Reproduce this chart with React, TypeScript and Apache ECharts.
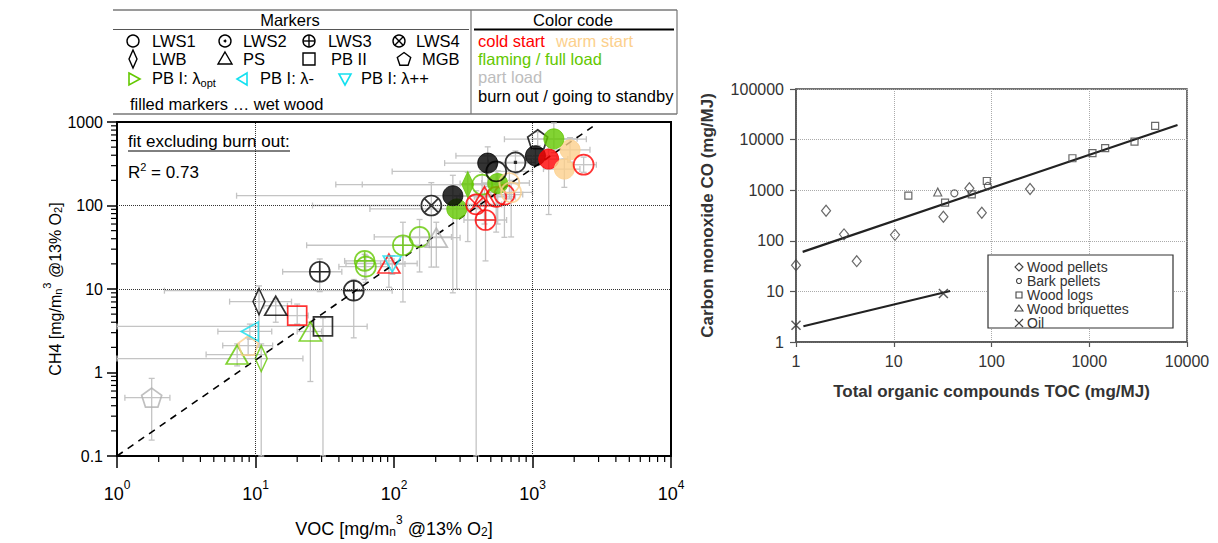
import React, { useEffect, useRef } from 'react';
import * as echarts from 'echarts';

const FONT = "'Liberation Sans', Arial, sans-serif";

// ---------- Left panel: CH4 vs VOC ----------
// shape codes: c=LWS1, cd=LWS2, cp=LWS3, cx=LWS4, dm=LWB, tu=PS, sq=PB II, pg=MGB, tr=PB I opt, tl=PB I λ-, td=PB I λ++
const L_SHAPE = ['pg','dm','tu','pg','tl','tu','sq','sq','tu','dm','cp','cp','c','cp','tu','td','cp','c','tu','cx','c','c','dm','c','cx','cp','tu','c','c','c','c','c','c','c','cd','c','c','c','c','c','pg','c'];
const L_STATE = ['part','flame','flame','warm','cyan','flame','burn','cold','burn','burn','burn','burn','flame','flame','cold','cyan','flame','flame','part','burn','flame','burn','flame','flame','cold','cold','cold','cold','cold','flame','warm','warm','burn','burn','burn','burn','cold','warm','warm','cold','burn','flame'];
const L_FILLED = [0,0,0,0,0,0,0,0,0,0,0,0,0,0,0,0,0,0,0,0,1,1,1,0,0,0,0,0,0,1,0,0,0,1,0,1,1,1,1,0,0,1];
const L_X = [1.78,11.0,7.37,8.85,9.1,24.9,30.7,20,14,10.6,51.2,29.1,62.6,61.4,91.9,97.2,116,153,202,186,284,266,341,433,392,458,450,547,627,561,681,701,547,475,753,1050,1309,1698,1867,2340,1090,1426];
const L_Y = [0.5,1.47,1.64,2.1,3.1,3.1,3.56,4.8,6.3,7.06,9.55,16.1,18.5,21.7,20.2,19.9,33.4,42,41.2,100,91,131,178,178,103,67,129,127,135,183,186,144,256,322,328,394,360,273,464,308,622,628];
const L_XLO = [1.14,1,4.4,5.8,5.35,20,1,17,11.5,6.5,2.2,15.7,40,44,45,80,23.4,72,130,25.8,67,7.3,59,38,250,320,300,380,430,300,430,480,97,232,480,280,900,1200,1300,1940,627,1000];
const L_XHI = [2.41,22,12,13.3,13.1,30,64,24,17,18.2,97,42,90,100,147,120,180,260,300,400,420,500,520,650,600,650,650,750,850,800,950,1000,1000,982,1050,1500,1800,2200,2600,2890,2448,2100];
const L_YLO = [0.155,0.1,1.2,1.6,2.5,0.78,0.1,3.8,4,2,2.6,9.3,12,13,10.5,15,7,16,18.3,18.3,10,9,37,110,0.1,21.7,60,48,41.6,60,120,42,190,168,240,300,78,165,330,250,520,430];
const L_YHI = [0.85,2.2,2.2,2.6,3.8,4.0,4.5,6.6,7.6,10.9,13,22.9,25,26,23.4,25,63,68,63,188,130,230,250,250,150,110,180,180,190,260,260,200,330,504,450,500,470,360,650,380,760,973];

const FIT_X = [1, 2720];
const FIT_Y = [0.1, 880];

const L_X_MINOR = [2,3,4,5,6,7,8,9,20,30,40,50,60,70,80,90,200,300,400,500,600,700,800,900,2000,3000,4000,5000,6000,7000,8000,9000];
const L_Y_MINOR = [0.2,0.3,0.4,0.5,0.6,0.7,0.8,0.9,2,3,4,5,6,7,8,9,20,30,40,50,60,70,80,90,200,300,400,500,600,700,800,900];

// ---------- Right panel: CO vs TOC ----------
const R_PELLETS_X = [1, 2.03, 3.1, 4.18, 10.3, 32.2, 59.4, 79.6, 248];
const R_PELLETS_Y = [33, 393, 134, 39.6, 131, 299, 1091, 358, 1057];
const R_BARK_X = [41.7, 91.6];
const R_BARK_Y = [868, 1211];
const R_LOGS_X = [14.1, 33.5, 62.8, 89.5, 673, 1079, 1455, 2904, 4722];
const R_LOGS_Y = [778, 566, 829, 1521, 4283, 5381, 6757, 9120, 18670];
const R_BRIQ_X = [28.2];
const R_BRIQ_Y = [921];
const R_OIL_X = [1, 32.2];
const R_OIL_Y = [2.14, 9.09];
const R_FIT_BIO_X = [1.17, 8000];
const R_FIT_BIO_Y = [60.5, 19500];
const R_FIT_OIL_X = [1.19, 37.7];
const R_FIT_OIL_Y = [2.05, 10.2];

const STATE_COLOR: Record<string, string> = {
  cold: '#ff0000',
  warm: '#fcd08c',
  flame: '#63c800',
  part: '#b0b0b0',
  burn: '#000000',
  cyan: '#14e0f0',
};

const CIRC = 'M0,10C0,4.48 4.48,0 10,0C15.52,0 20,4.48 20,10C20,15.52 15.52,20 10,20C4.48,20 0,15.52 0,10Z';
const SYM: Record<string, string> = {
  c: 'path://' + CIRC,
  cd: 'path://' + CIRC + 'M9.2,9.2L10.8,9.2L10.8,10.8L9.2,10.8Z',
  cp: 'path://' + CIRC + 'M10,0L10,20M0,10L20,10',
  cx: 'path://' + CIRC + 'M2.93,2.93L17.07,17.07M17.07,2.93L2.93,17.07',
  dm: 'path://M5,0L10,13L5,26L0,13Z',
  tu: 'path://M10,0L20,18L0,18Z',
  sq: 'path://M0,0L20,0L20,20L0,20Z',
  pg: 'path://M10,0L19.51,6.91L15.88,18.09L4.12,18.09L0.49,6.91Z',
  tr: 'path://M0,0L18,10L0,20Z',
  tl: 'path://M18,0L0,10L18,20Z',
  td: 'path://M0,0L20,0L10,18Z',
};
const SIZE: Record<string, number[]> = {
  c: [20, 20], cd: [20, 20], cp: [20, 20], cx: [20, 20], dm: [12, 26], tu: [22, 19],
  sq: [19, 19], pg: [20, 19], tr: [17, 19], tl: [17, 19], td: [18, 16],
};

const ERR_COLOR = '#c4c4c4';
const TS = 16.5; // table font size
const LS = 14; // right legend font size

function buildOption() {
  const leftScatter = L_X.map((x, i) => {
    const col = STATE_COLOR[L_STATE[i]];
    const filled = L_FILLED[i] === 1;
    return {
      value: [x, L_Y[i]],
      symbol: SYM[L_SHAPE[i]],
      symbolSize: SIZE[L_SHAPE[i]],
      itemStyle: filled
        ? { color: col, borderColor: col, borderWidth: 1 }
        : { color: 'rgba(0,0,0,0)', borderColor: col, borderWidth: 1.7 },
    };
  });

  const errData = L_X.map((x, i) => [x, L_Y[i], L_XLO[i], L_XHI[i], L_YLO[i], L_YHI[i]]);

  const richX = {
    b: { fontSize: 18, fontFamily: FONT, color: '#000', lineHeight: 24, verticalAlign: 'bottom' },
    sup: { fontSize: 12, fontFamily: FONT, color: '#000', lineHeight: 12, verticalAlign: 'top' },
    sub: { fontSize: 12, fontFamily: FONT, color: '#000', lineHeight: 9, verticalAlign: 'bottom' },
  };
  const richY = {
    b: { fontSize: 16, fontFamily: FONT, color: '#000', lineHeight: 22, verticalAlign: 'bottom' },
    sup: { fontSize: 11, fontFamily: FONT, color: '#000', lineHeight: 12, verticalAlign: 'top' },
    sub: { fontSize: 11, fontFamily: FONT, color: '#000', lineHeight: 8, verticalAlign: 'bottom' },
  };

  const rightMarker = (sym: any, size: any) => ({
    type: 'scatter', xAxisIndex: 1, yAxisIndex: 1, symbol: sym, symbolSize: size, z: 3,
    itemStyle: { color: 'rgba(0,0,0,0)', borderColor: '#444', borderWidth: 1.2 },
  });

  const txt = (x: number, y: number, text: string, fill = '#000', extra: any = {}) => ({
    type: 'text', x, y, z: 10,
    style: { text, fill, fontSize: TS, fontFamily: FONT, align: 'left', verticalAlign: 'middle', ...extra },
  });
  const ln = (x1: number, y1: number, x2: number, y2: number, stroke = '#000', lw = 1.4) => ({
    type: 'line', z: 10, shape: { x1, y1, x2, y2 }, style: { stroke, lineWidth: lw },
  });
  const circ = (cx: number, cy: number, r: number, stroke = '#000', fill = 'none', lw = 1.4) => ({
    type: 'circle', z: 10, shape: { cx, cy, r }, style: { stroke, fill, lineWidth: lw },
  });
  const poly = (points: number[][], stroke = '#000', lw = 1.4) => ({
    type: 'polygon', z: 10, shape: { points }, style: { stroke, fill: 'none', lineWidth: lw },
  });

  const graphic: any[] = [
    // legend table
    ln(113, 10, 677, 10, '#9a9a9a', 2),
    ln(113, 114, 677, 114, '#9a9a9a', 2),
    ln(677, 10, 677, 114, '#777', 1.2),
    ln(471, 10, 471, 114, '#777', 1.2),
    ln(113, 29.5, 469, 29.5, '#555', 1),
    ln(474, 29.5, 674, 29.5, '#000', 2),
    txt(290, 20, 'Markers', '#000', { align: 'center' }),
    txt(573, 20, 'Color code', '#000', { align: 'center' }),
    // row 1
    circ(133, 41, 6),
    txt(152, 41, 'LWS1'),
    circ(225, 41, 6),
    circ(225, 41, 1, '#000', '#000', 1),
    txt(243, 41, 'LWS2'),
    circ(309, 41, 6),
    ln(309, 35, 309, 47), ln(303, 41, 315, 41),
    txt(328, 41, 'LWS3'),
    circ(399, 41, 6),
    ln(394.8, 36.8, 403.2, 45.2), ln(403.2, 36.8, 394.8, 45.2),
    txt(416, 41, 'LWS4'),
    // row 2
    poly([[133, 50], [137, 59], [133, 68], [129, 59]]),
    txt(152, 59, 'LWB'),
    poly([[225, 52], [232, 64], [218, 64]]),
    txt(243, 59, 'PS'),
    { type: 'rect', z: 10, shape: { x: 303, y: 53, width: 12, height: 12 }, style: { stroke: '#000', fill: 'none', lineWidth: 1.4 } },
    txt(331, 59, 'PB II'),
    poly([[404, 52.5], [410.7, 57.4], [408.1, 65.3], [399.9, 65.3], [397.3, 57.4]]),
    txt(422, 59, 'MGB'),
    // row 3
    poly([[129, 73], [140, 79], [129, 85]], STATE_COLOR.flame, 1.6),
    { type: 'text', x: 152, y: 78, z: 10, style: { text: 'PB I: λ{sub|opt}', fill: '#000', fontSize: TS, fontFamily: FONT, verticalAlign: 'middle', lineHeight: 20, rich: { sub: { fontSize: 11, fontFamily: FONT, lineHeight: 8, verticalAlign: 'bottom', fill: '#000' } } } },
    poly([[247, 73], [237, 79], [247, 85]], STATE_COLOR.cyan, 1.6),
    txt(260, 78, 'PB I: λ-'),
    poly([[339, 74], [351, 74], [345, 85]], STATE_COLOR.cyan, 1.6),
    txt(361, 78, 'PB I: λ++'),
    // row 4
    txt(130, 104, 'filled markers … wet wood'),
    // color code
    txt(478, 41, 'cold start', STATE_COLOR.cold),
    txt(556, 41, 'warm start', STATE_COLOR.warm),
    txt(478, 59, 'flaming / full load', STATE_COLOR.flame),
    txt(478, 77, 'part load', '#bdbdbd'),
    txt(478, 96, 'burn out / going to standby', '#000'),
    // annotation in left plot
    txt(128, 141, 'fit excluding burn out:', '#000', { fontSize: 17 }),
    ln(128, 151, 290, 151, '#000', 1),
    { type: 'text', x: 128, y: 172, z: 10, style: { text: 'R{sup|2} = 0.73', fill: '#000', fontSize: 17, fontFamily: FONT, verticalAlign: 'middle', lineHeight: 22, rich: { sup: { fontSize: 11, fontFamily: FONT, lineHeight: 10, verticalAlign: 'top', fill: '#000' } } } },
    // right legend box
    { type: 'rect', z: 10, shape: { x: 988, y: 255, width: 185, height: 73 }, style: { stroke: '#333', fill: '#fff', lineWidth: 1.2 } },
    poly([[1019, 263], [1023, 267], [1019, 271], [1015, 267]], '#444', 1.1),
    txt(1027, 267, 'Wood pellets', '#333', { fontSize: LS }),
    circ(1019, 281, 2.5, '#444', 'none', 1.1),
    txt(1027, 281, 'Bark pellets', '#333', { fontSize: LS }),
    { type: 'rect', z: 10, shape: { x: 1016, y: 292, width: 6, height: 6 }, style: { stroke: '#444', fill: 'none', lineWidth: 1.1 } },
    txt(1027, 295, 'Wood logs', '#333', { fontSize: LS }),
    poly([[1019, 305], [1023, 311], [1015, 311]], '#444', 1.1),
    txt(1027, 309, 'Wood briquettes', '#333', { fontSize: LS }),
    ln(1015, 319, 1023, 327, '#444', 1.2),
    ln(1023, 319, 1015, 327, '#444', 1.2),
    txt(1027, 323, 'Oil', '#333', { fontSize: LS }),
  ];

  return {
    animation: false,
    backgroundColor: '#ffffff',
    textStyle: { fontFamily: FONT },
    grid: [
      { left: 117, top: 122, width: 554, height: 336, show: true, borderColor: '#000', borderWidth: 2, backgroundColor: 'rgba(0,0,0,0)' },
      { left: 796, top: 89, width: 391, height: 253, show: true, borderColor: '#444', borderWidth: 1.5, backgroundColor: 'rgba(0,0,0,0)' },
    ],
    xAxis: [
      {
        type: 'log', gridIndex: 0, min: 1, max: 10000, logBase: 10,
        axisLine: { lineStyle: { color: '#000', width: 1.5 } },
        axisTick: { inside: false, length: 12, lineStyle: { color: '#000', width: 1.5 } },
        splitLine: { show: false },
        axisLabel: {
          margin: 23,
          formatter: (v: number) => '{b|10}{sup|' + Math.round(Math.log10(v)) + '}',
          rich: richX,
        },
        name: '{b|VOC [mg/m}{sub|n}{sup|3}{b| @13% O}{sub|2}{b|]}',
        nameLocation: 'middle', nameGap: 58,
        nameTextStyle: { rich: richX },
      },
      {
        type: 'log', gridIndex: 1, min: 1, max: 10000, logBase: 10,
        axisLine: { lineStyle: { color: '#555', width: 1.5 } },
        axisTick: { inside: false, length: 5, lineStyle: { color: '#555', width: 1.2 } },
        splitLine: { show: true, lineStyle: { type: 'dotted', color: '#aaa', width: 1 } },
        axisLabel: { margin: 11, fontSize: 16, color: '#333', fontFamily: FONT, formatter: (v: number) => String(Math.round(v)) },
        name: 'Total organic compounds TOC (mg/MJ)',
        nameLocation: 'middle', nameGap: 41,
        nameTextStyle: { fontSize: 17, fontWeight: 'bold', color: '#333', fontFamily: FONT },
      },
    ],
    yAxis: [
      {
        type: 'log', gridIndex: 0, min: 0.1, max: 1000, logBase: 10,
        axisLine: { lineStyle: { color: '#000', width: 1.5 } },
        axisTick: { inside: false, length: 10, lineStyle: { color: '#000', width: 1.5 } },
        splitLine: { show: false },
        axisLabel: {
          margin: 14, fontSize: 16, color: '#000', fontFamily: FONT,
          formatter: (v: number) => (v < 1 ? v.toFixed(1) : String(Math.round(v))),
        },
        name: '{b|CH4 [mg/m}{sub|n}{sup|3}{b| @13% O}{sub|2}{b|]}',
        nameLocation: 'middle', nameGap: 50,
        nameTextStyle: { rich: richY },
      },
      {
        type: 'log', gridIndex: 1, min: 1, max: 100000, logBase: 10,
        axisLine: { lineStyle: { color: '#555', width: 1.5 } },
        axisTick: { inside: false, length: 6, lineStyle: { color: '#555', width: 1.2 } },
        splitLine: { show: true, lineStyle: { type: 'dotted', color: '#aaa', width: 1 } },
        axisLabel: { margin: 12, fontSize: 16, color: '#333', fontFamily: FONT, formatter: (v: number) => String(Math.round(v)) },
        name: 'Carbon monoxide CO (mg/MJ)',
        nameLocation: 'middle', nameGap: 80,
        nameTextStyle: { fontSize: 17, fontWeight: 'bold', color: '#333', fontFamily: FONT },
      },
    ],
    series: [
      {
        type: 'custom', xAxisIndex: 0, yAxisIndex: 0, z: 1, silent: true,
        encode: { x: 0, y: 1 },
        data: errData,
        renderItem: (params: any, api: any) => {
          const x = api.value(0), y = api.value(1);
          const l = api.coord([api.value(2), y]);
          const r = api.coord([api.value(3), y]);
          const b = api.coord([x, api.value(4)]);
          const t = api.coord([x, api.value(5)]);
          const st = { stroke: ERR_COLOR, lineWidth: 1.3 };
          const c = 3;
          return {
            type: 'group',
            children: [
              { type: 'line', shape: { x1: l[0], y1: l[1], x2: r[0], y2: r[1] }, style: st },
              { type: 'line', shape: { x1: l[0], y1: l[1] - c, x2: l[0], y2: l[1] + c }, style: st },
              { type: 'line', shape: { x1: r[0], y1: r[1] - c, x2: r[0], y2: r[1] + c }, style: st },
              { type: 'line', shape: { x1: b[0], y1: b[1], x2: t[0], y2: t[1] }, style: st },
              { type: 'line', shape: { x1: b[0] - c, y1: b[1], x2: b[0] + c, y2: b[1] }, style: st },
              { type: 'line', shape: { x1: t[0] - c, y1: t[1], x2: t[0] + c, y2: t[1] }, style: st },
            ],
          };
        },
      },
      {
        type: 'custom', xAxisIndex: 0, yAxisIndex: 0, z: 5, silent: true,
        data: L_X_MINOR.map((v) => [v, 0.1]),
        renderItem: (params: any, api: any) => {
          const p = api.coord([api.value(0), api.value(1)]);
          return { type: 'line', shape: { x1: p[0], y1: p[1], x2: p[0], y2: p[1] + 6 }, style: { stroke: '#000', lineWidth: 1.2 } };
        },
      },
      {
        type: 'custom', xAxisIndex: 0, yAxisIndex: 0, z: 5, silent: true,
        data: L_Y_MINOR.map((v) => [1, v]),
        renderItem: (params: any, api: any) => {
          const p = api.coord([api.value(0), api.value(1)]);
          return { type: 'line', shape: { x1: p[0] - 6, y1: p[1], x2: p[0], y2: p[1] }, style: { stroke: '#000', lineWidth: 1.2 } };
        },
      },
      {
        type: 'line', xAxisIndex: 0, yAxisIndex: 0, z: 2, showSymbol: false, silent: true,
        data: FIT_X.map((x, i) => [x, FIT_Y[i]]),
        lineStyle: { color: '#000', width: 1.6, type: [7, 6] },
        markLine: {
          silent: true, symbol: 'none', label: { show: false },
          lineStyle: { type: 'dotted', color: '#333', width: 1 },
          data: [{ xAxis: 10 }, { xAxis: 1000 }, { yAxis: 10 }, { yAxis: 100 }],
        },
      },
      {
        type: 'scatter', xAxisIndex: 0, yAxisIndex: 0, z: 3,
        data: leftScatter,
      },
      {
        type: 'line', xAxisIndex: 1, yAxisIndex: 1, z: 2, showSymbol: false, silent: true,
        data: R_FIT_BIO_X.map((x, i) => [x, R_FIT_BIO_Y[i]]),
        lineStyle: { color: '#222', width: 2.2 },
      },
      {
        type: 'line', xAxisIndex: 1, yAxisIndex: 1, z: 2, showSymbol: false, silent: true,
        data: R_FIT_OIL_X.map((x, i) => [x, R_FIT_OIL_Y[i]]),
        lineStyle: { color: '#222', width: 2.2 },
      },
      { ...rightMarker('diamond', [9, 11]), data: R_PELLETS_X.map((x, i) => [x, R_PELLETS_Y[i]]) },
      { ...rightMarker('circle', 7), data: R_BARK_X.map((x, i) => [x, R_BARK_Y[i]]) },
      { ...rightMarker('rect', 7), data: R_LOGS_X.map((x, i) => [x, R_LOGS_Y[i]]) },
      { ...rightMarker('triangle', 8), data: R_BRIQ_X.map((x, i) => [x, R_BRIQ_Y[i]]) },
      { ...rightMarker('path://M0,0L10,10M10,0L0,10', 9), itemStyle: { color: 'rgba(0,0,0,0)', borderColor: '#333', borderWidth: 1.5 }, data: R_OIL_X.map((x, i) => [x, R_OIL_Y[i]]) },
    ],
    graphic,
  };
}

export default function App() {
  const ref = useRef<HTMLDivElement>(null);
  useEffect(() => {
    if (!ref.current) return;
    const chart = echarts.init(ref.current, null, { renderer: 'svg' });
    chart.setOption(buildOption() as any);
    return () => chart.dispose();
  }, []);
  return (
    <div
      ref={ref}
      style={{ position: 'fixed', left: 0, top: 0, width: 1218, height: 543, background: '#fff' }}
    />
  );
}
